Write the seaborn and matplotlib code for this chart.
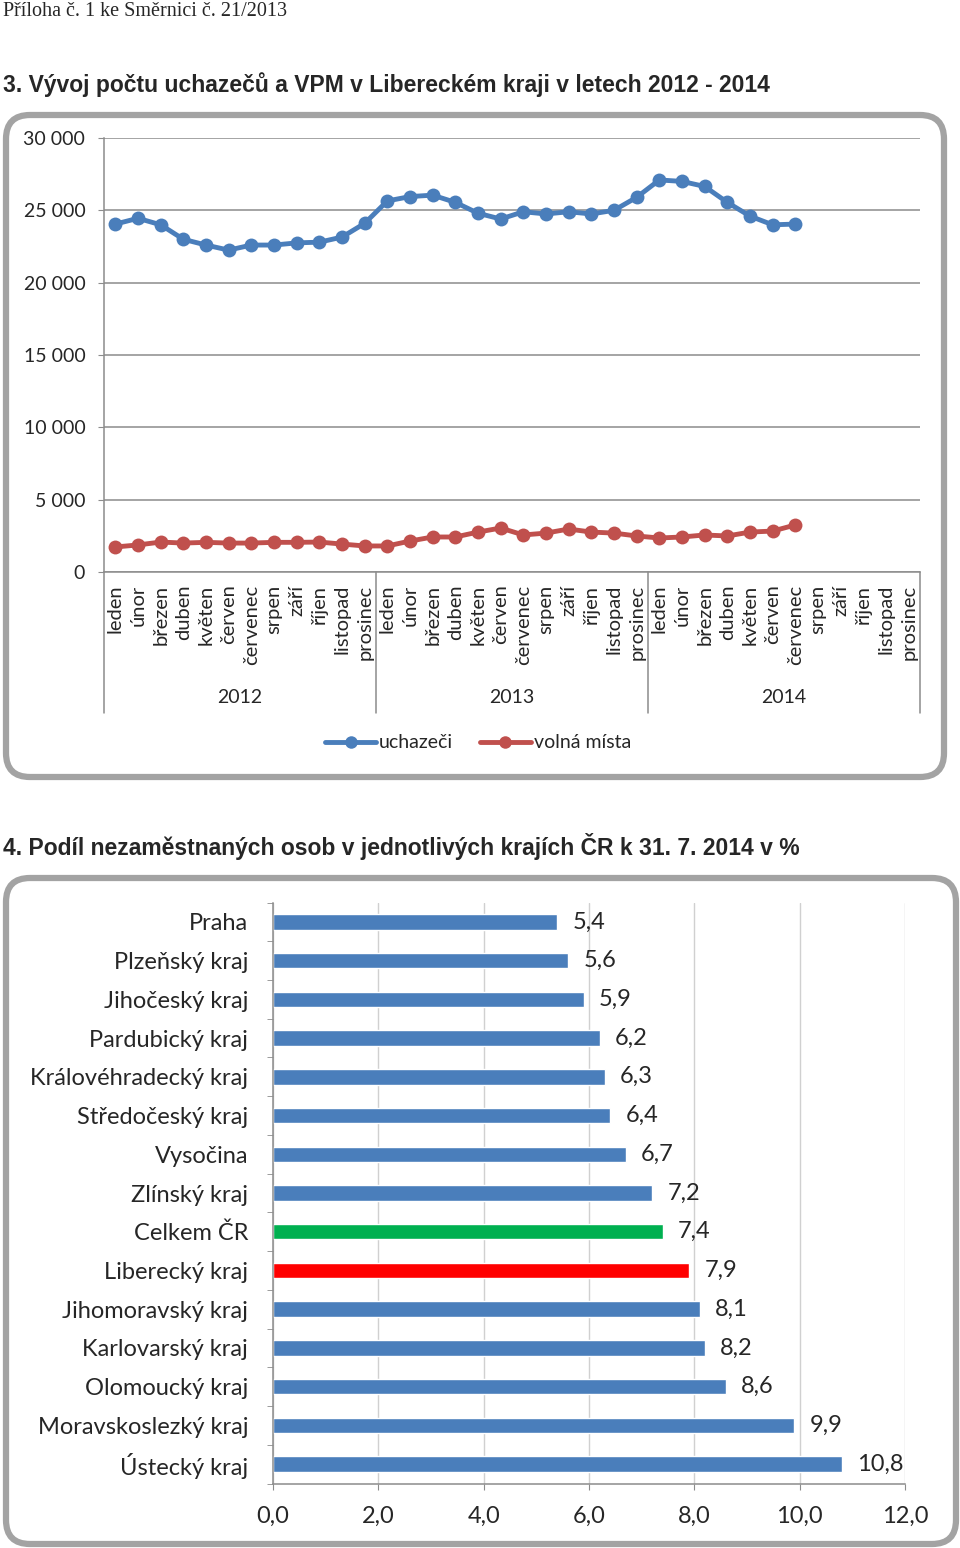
import matplotlib
matplotlib.use('Agg')

import numpy as np
import pandas as pd
import matplotlib.pyplot as plt
import seaborn as sns
from matplotlib.patches import FancyBboxPatch
from matplotlib.lines import Line2D
from matplotlib.ticker import FuncFormatter

# data - chart 3 (monthly counts 2012-2014)
months = ['leden', 'únor', 'březen', 'duben', 'květen', 'červen', 'červenec',
          'srpen', 'září', 'říjen', 'listopad', 'prosinec']
years = ['2012', '2013', '2014']
uchazeci = [24050, 24450, 24000, 23000, 22600, 22250, 22600, 22600, 22750, 22800, 23150, 24100,
            25650, 25950, 26050, 25550, 24800, 24400, 24900, 24750, 24900, 24750, 25000, 25900,
            27100, 27000, 26650, 25550, 24600, 24000, 24050]
volna_mista = [1730, 1870, 2070, 2000, 2050, 2000, 2000, 2050, 2050, 2070, 1930, 1800,
               1800, 2140, 2420, 2420, 2760, 3040, 2560, 2690, 2970, 2760, 2690, 2490,
               2350, 2420, 2560, 2490, 2760, 2830, 3250]

# data - chart 4 (unemployment share by region, %)
regions = ['Praha', 'Plzeňský kraj', 'Jihočeský kraj', 'Pardubický kraj', 'Královéhradecký kraj',
           'Středočeský kraj', 'Vysočina', 'Zlínský kraj', 'Celkem ČR', 'Liberecký kraj',
           'Jihomoravský kraj', 'Karlovarský kraj', 'Olomoucký kraj', 'Moravskoslezký kraj',
           'Ústecký kraj']
shares = [5.4, 5.6, 5.9, 6.2, 6.3, 6.4, 6.7, 7.2, 7.4, 7.9, 8.1, 8.2, 8.6, 9.9, 10.8]

BLUE = '#4A7EBB'
RED = '#C0504D'
GRID = '#8C8C8C'
FONT = ['Lato', 'DejaVu Sans']

sns.set_style('white')
plt.rcParams['font.family'] = FONT
plt.rcParams['axes.unicode_minus'] = False

fig = plt.figure(figsize=(9.6, 15.48), dpi=100)

# background layer in pixel coordinates for frames and headings
bg = fig.add_axes([0, 0, 1, 1], zorder=-10)
bg.set_xlim(0, 960)
bg.set_ylim(1548, 0)
bg.axis('off')
for (x0, y0, w, h) in [(6, 115, 938, 662), (6, 878, 950, 666)]:
    bg.add_patch(FancyBboxPatch((x0, y0), w, h, boxstyle='round,pad=0,rounding_size=24',
                                lw=4.5, ec='#A3A3A3', fc='white'))
bg.text(3, 12, 'Příloha č. 1 ke Směrnici č. 21/2013', fontsize=14.5, va='center',
        family=['Liberation Serif', 'DejaVu Serif'])
bg.text(3, 85, '3. Vývoj počtu uchazečů a VPM v Libereckém kraji v letech 2012 - 2014',
        fontsize=16.5, fontweight='bold', va='center', family=['Liberation Sans', 'DejaVu Sans'])
bg.text(3, 846, '4. Podíl nezaměstnaných osob v jednotlivých krajích ČR k 31. 7. 2014 v %',
        fontsize=16.5, fontweight='bold', va='center', family=['Liberation Sans', 'DejaVu Sans'])

# ---------------- chart 3: line chart ----------------
ax1 = fig.add_axes([104 / 960, 1 - 572 / 1548, 816 / 960, 434 / 1548])
n = len(uchazeci)
df_line = pd.DataFrame({
    'idx': list(range(n)) * 2,
    'value': uchazeci + volna_mista,
    'series': ['uchazeči'] * n + ['volná místa'] * n,
})
sns.lineplot(data=df_line, x='idx', y='value', hue='series',
             palette={'uchazeči': BLUE, 'volná místa': RED},
             marker='o', markersize=10, markeredgewidth=0, linewidth=3.5,
             legend=False, ax=ax1)

n_all = len(months) * len(years)
ax1.set_xlim(-0.5, n_all - 0.5)
ax1.set_ylim(0, 30000)
ax1.set_yticks(np.arange(0, 30001, 5000))
ax1.yaxis.set_major_formatter(FuncFormatter(lambda v, p: f'{int(v):,}'.replace(',', ' ')))
ax1.grid(axis='y', color=GRID, lw=1.1)
ax1.set_axisbelow(True)
for s in ['top', 'right']:
    ax1.spines[s].set_visible(False)
for s in ['left', 'bottom']:
    ax1.spines[s].set_color(GRID)
    ax1.spines[s].set_linewidth(1.1)
ax1.set_xlabel('')
ax1.set_ylabel('')
ax1.set_xticks(range(n_all))
ax1.set_xticklabels(months * len(years), rotation=90, fontsize=14.5)
ax1.set_xticks(np.arange(-0.5, n_all, 1), minor=True)
ax1.tick_params(axis='x', which='major', length=6, direction='inout', color=GRID, pad=6)
ax1.tick_params(axis='x', which='minor', length=69, direction='out', color=GRID, width=1.1)
ax1.tick_params(axis='y', length=4.5, color=GRID, labelsize=14, pad=9, left=True)
xt = ax1.get_xaxis_transform()
for k in range(len(years) + 1):
    ax1.plot([k * 12 - 0.5] * 2, [0, -0.325], color=GRID, lw=1.1, transform=xt, clip_on=False)
for k, yr in enumerate(years):
    ax1.text(k * 12 + 5.5, -0.29, yr, transform=xt, ha='center', va='center', fontsize=14)

handles = [Line2D([], [], color=BLUE, lw=3.5, marker='o', markersize=9, markeredgewidth=0),
           Line2D([], [], color=RED, lw=3.5, marker='o', markersize=9, markeredgewidth=0)]
fig.legend(handles, ['uchazeči', 'volná místa'], loc='center', ncol=2, frameon=False,
           bbox_to_anchor=(478 / 960, 1 - 743 / 1548), fontsize=14,
           handlelength=2.6, handletextpad=0.15, columnspacing=1.4)

# ---------------- chart 4: horizontal bar chart ----------------
ax2 = fig.add_axes([273 / 960, 1 - 1483.5 / 1548, 632 / 960, 581 / 1548])
bar_colors = [BLUE] * len(regions)
bar_colors[regions.index('Celkem ČR')] = '#00B050'
bar_colors[regions.index('Liberecký kraj')] = '#FF0000'
df_bar = pd.DataFrame({'region': regions, 'share': shares})
sns.barplot(data=df_bar, x='share', y='region', hue='region', palette=bar_colors,
            orient='h', width=0.4, legend=False, saturation=1, ax=ax2)
ax2.set_xlim(0, 12)
ax2.set_ylim(len(regions) - 0.5, -0.5)
ax2.set_xticks(np.arange(0, 12.1, 2))
ax2.xaxis.set_major_formatter(FuncFormatter(lambda v, p: f'{v:.1f}'.replace('.', ',')))
ax2.grid(axis='x', color='#D0D0D0', lw=1)
ax2.set_axisbelow(True)
for s in ['top', 'right']:
    ax2.spines[s].set_visible(False)
for s in ['left', 'bottom']:
    ax2.spines[s].set_color(GRID)
    ax2.spines[s].set_linewidth(1.1)
ax2.set_xlabel('')
ax2.set_ylabel('')
ax2.set_yticks(np.arange(-0.5, len(regions), 1), minor=True)
ax2.tick_params(axis='y', which='major', length=0, labelsize=17, pad=18)
ax2.tick_params(axis='y', which='minor', length=4.5, color=GRID, left=True)
ax2.tick_params(axis='x', length=4.5, color=GRID, labelsize=17, pad=11.5, bottom=True)
for cont in ax2.containers:
    ax2.bar_label(cont, labels=[f'{v:.1f}'.replace('.', ',') for v in cont.datavalues],
                  padding=11, fontsize=17)

fig.savefig('out.png', dpi=100)
